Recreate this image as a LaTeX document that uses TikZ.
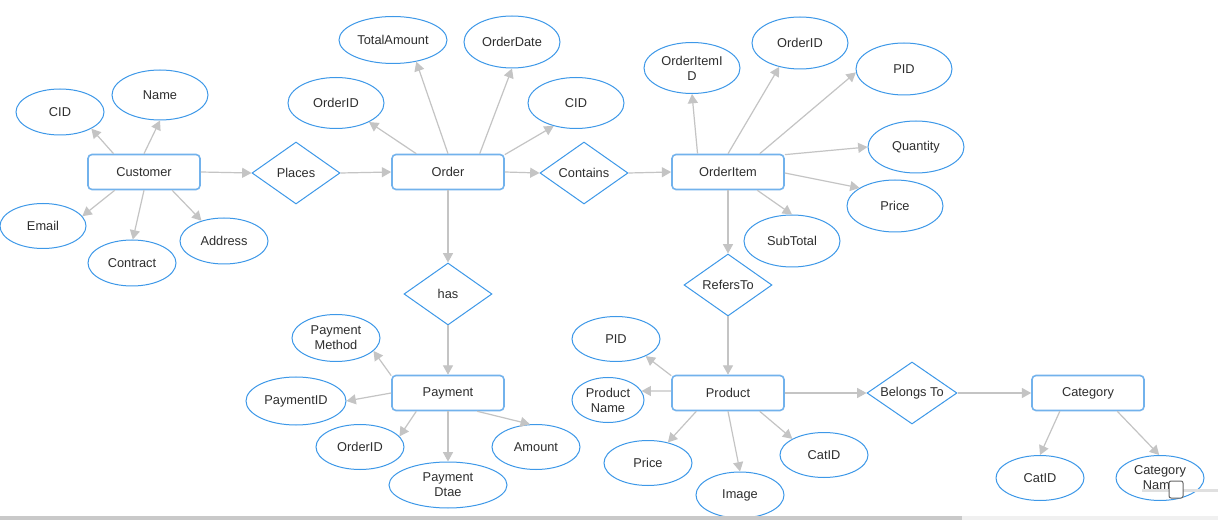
\documentclass[tikz,border=0pt]{standalone}
\usepackage{fontspec}
\setmainfont{Liberation Sans}
\usetikzlibrary{shapes.geometric,arrows.meta}
\definecolor{eblue}{HTML}{3D98E8}
\definecolor{bblue}{HTML}{72B2EC}
\definecolor{lgrey}{HTML}{C4C4C4}
\definecolor{txt}{HTML}{2E2E2E}
\begin{document}
\begin{tikzpicture}[x=0.75pt,y=-0.75pt,
  font=\fontsize{9.6}{11.2}\selectfont, text=txt,
  sz/.style n args={2}{minimum width=#1*0.75pt, minimum height=#2*0.75pt},
  ent/.style={rectangle, draw=bblue, line width=1.2pt, rounded corners=3pt, sz={112}{35}, inner sep=0pt},
  rel/.style={diamond, draw=eblue, line width=0.75pt, sz={88}{62}, inner sep=0pt, aspect=1.4},
  attr/.style={ellipse, draw=eblue, line width=0.75pt, sz={96}{51}, inner sep=0pt, align=center},
  sm/.style={sz={88}{46}},
  con/.style={draw=lgrey, line width=0.9pt, -{Triangle[length=7pt,width=7.5pt]}}]
\fill[white] (0,0) rectangle (1218,520);
\useasboundingbox (0,0) rectangle (1218,520);

% entities and relationships
\node[ent] (cust) at (144,172) {Customer};
\node[rel] (places) at (296,173) {Places};
\node[ent] (order) at (448,172) {Order};
\node[rel] (contains) at (584,173) {Contains};
\node[ent] (oitem) at (728,172) {OrderItem};
\node[rel] (has) at (448,294) {has};
\node[ent] (payment) at (448,393) {Payment};
\node[rel] (refers) at (728,285) {RefersTo};
\node[ent] (product) at (728,393) {Product};
\node[rel, sz={90}{62}] (belongs) at (912,393) {Belongs To};
\node[ent] (category) at (1088,393) {Category};

% customer attributes
\node[attr, sm] (cCID) at (60,112) {CID};
\node[attr, sz={96}{50}] (cName) at (160,95) {Name};
\node[attr, sz={86}{45}] (cEmail) at (43,226) {Email};
\node[attr, sm] (cContract) at (132,263) {Contract};
\node[attr, sm] (cAddress) at (224,241) {Address};

% order attributes
\node[attr] (oID) at (336,103) {OrderID};
\node[attr, sz={108}{47}] (oTotal) at (393,40) {TotalAmount};
\node[attr, sz={96}{52}] (oDate) at (512,42) {OrderDate};
\node[attr] (oCID) at (576,103) {CID};

% order item attributes
\node[attr] (iID) at (692,68) {OrderItemI\\D};
\node[attr, sz={96}{52}] (iOrderID) at (800,43) {OrderID};
\node[attr, sz={96}{52}] (iPID) at (904,69) {PID};
\node[attr, sz={96}{52}] (iQty) at (916,147) {Quantity};
\node[attr, sz={96}{52}] (iPrice) at (895,206) {Price};
\node[attr, sz={96}{52}] (iSub) at (792,241) {SubTotal};

% payment attributes
\node[attr, sz={88}{47}] (pMethod) at (336,338) {Payment\\Method};
\node[attr, sz={100}{48}] (pID) at (296,401) {PaymentID};
\node[attr, sz={88}{45}] (pOrderID) at (360,447) {OrderID};
\node[attr, sz={118}{46}] (pDate) at (448,485) {Payment\\Dtae};
\node[attr, sz={88}{45}] (pAmount) at (536,447) {Amount};

% product attributes
\node[attr, sz={88}{45}] (prPID) at (616,339) {PID};
\node[attr, sz={72}{45}] (prName) at (608,400) {Product\\Name};
\node[attr, sz={88}{45}] (prPrice) at (648,463) {Price};
\node[attr, sz={88}{46}] (prImage) at (740,495) {Image};
\node[attr, sz={88}{45}] (prCat) at (824,455) {CatID};

% category attributes
\node[attr, sz={88}{45}] (caID) at (1040,478) {CatID};
\node[attr, sz={88}{45}] (caName) at (1160,478) {Category\\Name};

% connectors
\draw[con] (cust.149.6) -- (cCID.-28);
\draw[con] (cust.north) -- (cName.-90);
\draw[con] (cust.-148) -- (cEmail.14);
\draw[con] (cust.-90) -- (cContract.88);
\draw[con] (cust.-33) -- (cAddress.138);
\draw[con] (cust.east) -- (places.west);

\draw[con] (order.150) -- (oID.-30);
\draw[con] (order.north) -- (oTotal.-43);
\draw[con] (order.30) -- (oDate.-90);
\draw[con] (order.17) -- (oCID.-134);
\draw[con] (places.east) -- (order.west);
\draw[con] (order.east) -- (contains.west);
\draw[con] (order.south) -- (has.north);
\draw[con] (contains.east) -- (oitem.west);

\draw[con] (oitem.149) -- (iID.-90);
\draw[con] (oitem.north) -- (iOrderID.-131);
\draw[con] (oitem.30) -- (iPID.-176);
\draw[con] (oitem.17) -- (iQty.180);
\draw[con] (oitem.-1) -- (iPrice.153);
\draw[con] (oitem.-32) -- (iSub.90);
\draw[con] (oitem.south) -- (refers.north);
\draw[con] (refers.south) -- (product.north);

\draw[con] (has.south) -- (payment.north);
\draw[con] (payment.163) -- (pMethod.-19);
\draw[con] (payment.west) -- (pID.0);
\draw[con] (payment.-150) -- (pOrderID.15);
\draw[con] (payment.south) -- (pDate.north);
\draw[con] (payment.-32) -- (pAmount.105);

\draw[con] (product.163) -- (prPID.-30);
\draw[con] (product.178) -- (prName.15);
\draw[con] (product.-150) -- (prPrice.46);
\draw[con] (product.south) -- (prImage.north);
\draw[con] (product.-30) -- (prCat.153);
\draw[con] (product.east) -- (belongs.west);
\draw[con] (belongs.east) -- (category.west);
\draw[con] (category.-147) -- (caID.north);
\draw[con] (category.-32) -- (caName.92);

% window chrome: scrollbars
\fill[black!21] (0,516) rectangle (962,520);
\fill[black!6] (962,516) rectangle (1218,520);
\draw[black!12, line width=2.25pt] (1142,490) -- (1218,490);
\draw[draw=black!60, fill=white, line width=0.75pt, rounded corners=1.5pt] (1169,481) rectangle (1183,498);
\end{tikzpicture}
\end{document}
